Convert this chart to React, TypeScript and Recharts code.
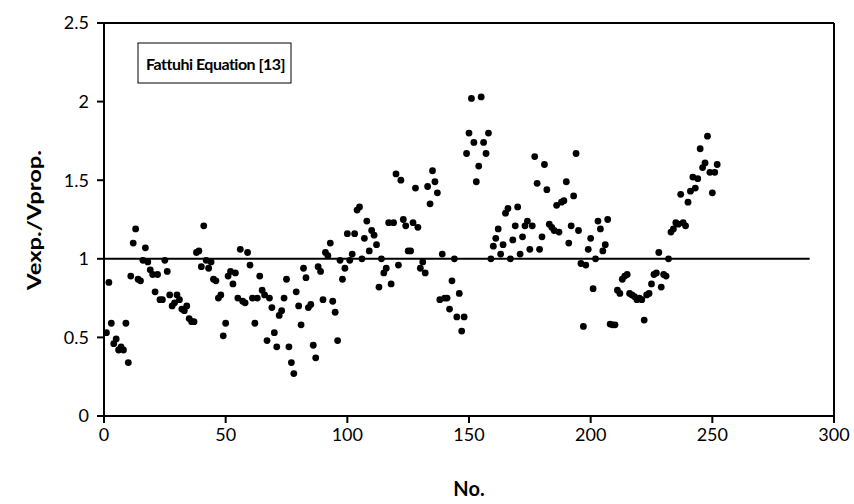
import React from 'react';
import { ScatterChart, Scatter, XAxis, YAxis, ReferenceLine } from 'recharts';

// Vexp./Vprop. ratios, specimen No. = position in the list (1..252)
const ratio001to041 = [0.53,0.85,0.59,0.46,0.49,0.42,0.44,0.42,0.59,0.34,0.89,1.10,1.19,0.87,0.86,0.99,1.07,0.98,0.93,0.90,0.79,0.90,0.74,0.74,0.99,0.92,0.77,0.70,0.72,0.77,0.74,0.68,0.67,0.70,0.62,0.60,0.60,1.04,1.05,0.95,1.21];
const ratio042to084 = [0.99,0.94,0.98,0.87,0.86,0.75,0.77,0.51,0.59,0.89,0.92,0.84,0.91,0.75,1.06,0.73,0.72,1.04,0.96,0.75,0.59,0.75,0.89,0.80,0.77,0.48,0.75,0.69,0.53,0.44,0.64,0.67,0.75,0.87,0.44,0.34,0.27,0.79,0.70,0.58,0.94,0.88,0.69];
const ratio085to125 = [0.71,0.45,0.37,0.95,0.92,0.74,1.04,1.02,1.10,0.73,0.66,0.48,0.99,0.87,0.94,1.16,0.99,1.03,1.16,1.31,1.33,1.00,1.13,1.24,1.05,1.18,1.15,1.09,0.82,1.00,0.91,0.94,1.23,0.84,1.23,1.54,0.96,1.50,1.25,1.21,1.05];
const ratio126to167 = [1.05,1.23,1.45,1.20,0.94,0.98,0.91,1.46,1.35,1.56,1.49,1.42,0.74,1.03,0.75,0.75,0.68,0.86,1.00,0.63,0.78,0.54,0.63,1.67,1.80,2.02,1.74,1.49,1.59,2.03,1.74,1.67,1.80,1.00,1.08,1.13,1.19,1.03,1.09,1.29,1.32,1.00];
const ratio168to208 = [1.12,1.21,1.33,1.03,1.14,1.21,1.24,1.06,1.21,1.65,1.48,1.06,1.14,1.60,1.44,1.22,1.20,1.18,1.34,1.17,1.36,1.37,1.49,1.10,1.21,1.40,1.67,1.18,0.97,0.57,0.96,1.06,1.13,0.81,1.00,1.24,1.19,1.05,1.09,1.25,0.585];
const ratio209to252 = [0.58,0.58,0.80,0.78,0.87,0.89,0.90,0.78,0.77,0.76,0.74,0.75,0.74,0.61,0.77,0.78,0.84,0.90,0.91,1.04,0.82,0.90,0.89,1.00,1.17,1.19,1.23,1.22,1.41,1.23,1.21,1.36,1.43,1.52,1.45,1.51,1.70,1.58,1.61,1.78,1.55,1.42,1.55,1.60];

const xTicks = [0, 50, 100, 150, 200, 250, 300];
const yTicks = [0, 0.5, 1, 1.5, 2, 2.5];
const xDomain = [0, 300];
const yDomain = [0, 2.5];
const unityLine = [{ x: 0, y: 1 }, { x: 290, y: 1 }];
const legendLabel = 'Fattuhi Equation [13]';
const xTitle = 'No.';
const yTitle = 'Vexp./Vprop.';

const ratios = [
  ...ratio001to041, ...ratio042to084, ...ratio085to125,
  ...ratio126to167, ...ratio168to208, ...ratio209to252,
];
const data = ratios.map((v, i) => ({ no: i + 1, ratio: v }));

const FONT = 'Lato, "Open Sans", sans-serif';

const Dot = (props: any) => {
  const { cx, cy } = props;
  if (cx == null || cy == null) return null;
  return <circle cx={cx} cy={cy} r={3.4} fill="#000" />;
};

export default function App() {
  return (
    <div style={{ position: 'absolute', left: 0, top: 0, width: 854, height: 504, background: '#fff', fontFamily: FONT }}>
      <ScatterChart width={854} height={504} margin={{ top: 23, right: 20, bottom: 28, left: 24 }}>
        <XAxis
          xAxisId="b"
          type="number"
          dataKey="no"
          domain={xDomain}
          ticks={xTicks}
          height={60}
          axisLine={{ stroke: '#000', strokeWidth: 2 }}
          tickLine={{ stroke: '#000', strokeWidth: 2 }}
          tickSize={7}
          tickMargin={5}
          tick={{ fill: '#000', fontSize: 18, fontFamily: FONT }}
          label={{
            content: () => (
              <text x={469} y={488} textAnchor="middle" dominantBaseline="central" fontFamily={FONT} fontSize={20} fontWeight="bold" fill="#000">
                {xTitle}
              </text>
            ),
          }}
        />
        <YAxis
          yAxisId="l"
          type="number"
          dataKey="ratio"
          domain={yDomain}
          ticks={yTicks}
          width={80}
          axisLine={{ stroke: '#000', strokeWidth: 2 }}
          tickLine={{ stroke: '#000', strokeWidth: 2 }}
          tickSize={7}
          tickMargin={8}
          tick={{ fill: '#000', fontSize: 18, fontFamily: FONT }}
          label={{
            content: () => (
              <text x={33} y={220} transform="rotate(-90 33 220)" textAnchor="middle" dominantBaseline="central" fontFamily={FONT} fontSize={19} fontWeight="bold" fill="#000" textLength={140} lengthAdjust="spacingAndGlyphs">
                {yTitle}
              </text>
            ),
          }}
        />
        <ReferenceLine xAxisId="b" yAxisId="l" y={2.5} stroke="#000" strokeWidth={2} ifOverflow="visible" />
        <ReferenceLine xAxisId="b" yAxisId="l" x={300} stroke="#000" strokeWidth={2} ifOverflow="visible" />
        <ReferenceLine xAxisId="b" yAxisId="l" segment={unityLine} stroke="#000" strokeWidth={2} ifOverflow="visible" />
        <Scatter xAxisId="b" yAxisId="l" data={data} dataKey="ratio" fill="#000" shape={Dot} isAnimationActive={false} />
      </ScatterChart>
      <svg width={160} height={42} style={{ position: 'absolute', left: 137, top: 42, overflow: 'visible' }}>
        <rect x={1} y={1} width={153} height={40} fill="#fff" stroke="#000" strokeWidth={1} />
        <text x={9} y={21.5} dominantBaseline="central" fontFamily={FONT} fontWeight="bold" fontSize={16} letterSpacing={-0.5} fill="#000">
          {legendLabel}
        </text>
      </svg>
    </div>
  );
}
